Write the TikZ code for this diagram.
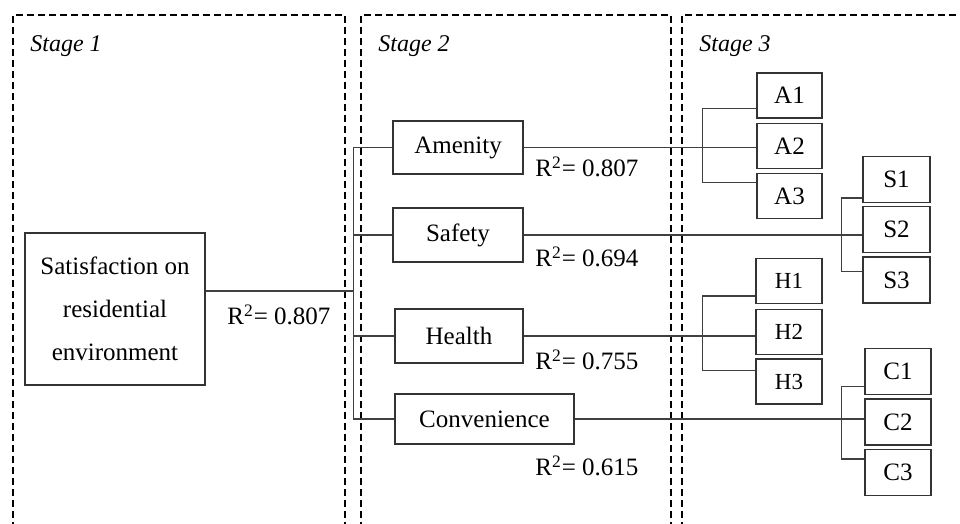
\documentclass[tikz,border=0pt]{standalone}
\usepackage{fontspec}
\setmainfont{Liberation Serif}
\usetikzlibrary{calc}

\begin{document}
\begin{tikzpicture}[x=0.5pt, y=-0.5pt,
    box/.style={draw=black!80, line width=0.6pt, inner sep=0pt,
        minimum width=32.5pt, minimum height=22.5pt,
        font=\fontsize{12.5}{15}\selectfont},
    wire/.style={draw=black!75, line width=0.6pt},
    frame/.style={draw=black, line width=0.7pt, dash pattern=on 3.5pt off 2pt},
    rsq/.style={anchor=west, inner sep=0pt, font=\fontsize{12.5}{15}\selectfont},
    stage/.style={anchor=west, inner sep=0pt, font=\fontsize{12}{14}\selectfont\itshape}]
    \useasboundingbox (0,0) rectangle (960,524);
    \clip (0,0) rectangle (960,524);

    \draw[frame] (13,540) -- (13,15) -- (345,15) -- (345,540);
    \draw[frame] (361,540) -- (361,15) -- (671,15) -- (671,540);
    \draw[frame] (682,540) -- (682,15) -- (975,15);

    \node[stage] (st1) at (30,46) {Stage 1};
    \node[stage] (st2) at (378,46) {Stage 2};
    \node[stage] (st3) at (699,46) {Stage 3};

    \node[box, minimum width=90pt, minimum height=76pt, align=center,
        font=\fontsize{12.5}{21.5}\selectfont] (sat) at (115,309)
        {Satisfaction on\\residential\\environment};

    \node[box, minimum width=65pt, minimum height=26.5pt] (amen) at (458,147.5) {Amenity};
    \node[box, minimum width=65pt, minimum height=27pt] (safe) at (458,235) {Safety};
    \node[box, minimum width=64pt, minimum height=27pt] (heal) at (459,336) {Health};
    \node[box, minimum width=89.5pt, minimum height=25pt] (conv) at (484.5,419) {Convenience};

    \foreach \n/\y in {1/95.5, 2/146, 3/196}
    \node[box] (A\n) at (789.5,\y) {A\n};
    \foreach \n/\y in {1/179.5, 2/229.5, 3/280}
    \node[box, minimum width=33.5pt, minimum height=23pt] (S\n) at (896.5,\y) {S\n};
    \foreach \n/\y in {1/281, 2/332, 3/381.5}
    \node[box, minimum width=33pt, font=\fontsize{11.5}{14}\selectfont] (H\n) at (789,\y) {H\n};
    \foreach \n/\y in {1/371.5, 2/422, 3/472.5}
    \node[box, minimum width=33pt, minimum height=23pt] (C\n) at (898,\y) {C\n};

    \draw[wire] ([yshift=9pt]sat.east) -- ++(74pt,0) coordinate (hub);
    \draw[wire] (amen.west) -| (hub |- conv.west) -- (conv.west);
    \draw[wire] (safe.west) -- (safe.west -| hub);
    \draw[wire] (heal.west) -- (heal.west -| hub);

    \draw[wire] (amen.east) -- (amen.east -| A2.west);
    \draw[wire] (safe.east) -- (safe.east -| S2.west);
    \draw[wire] (heal.east) -- (heal.east -| H2.west);
    \draw[wire] (conv.east) -- (conv.east -| C2.west);

    \draw[wire] ([yshift=5pt]A1.south west) -- ++(-27pt,0) |- ([yshift=-5pt]A3.north west);
    \draw[wire] ([yshift=2.5pt]S1.south west) -- ++(-10.5pt,0) |- ([yshift=-7.5pt]S3.north west);
    \draw[wire] ([yshift=4pt]H1.south west) -- ++(-26.5pt,0) |- ([yshift=-6pt]H3.north west);
    \draw[wire] ([yshift=4.5pt]C1.south west) -- ++(-11.5pt,0) |- ([yshift=-5pt]C3.north west);

    \node[rsq] (r0) at (227,315) {R\textsuperscript{2}= 0.807};
    \node[rsq] (r1) at (535,167) {R\textsuperscript{2}= 0.807};
    \node[rsq] (r2) at (535,257) {R\textsuperscript{2}= 0.694};
    \node[rsq] (r3) at (535,360) {R\textsuperscript{2}= 0.755};
    \node[rsq] (r4) at (535,466) {R\textsuperscript{2}= 0.615};
\end{tikzpicture}
\end{document}
